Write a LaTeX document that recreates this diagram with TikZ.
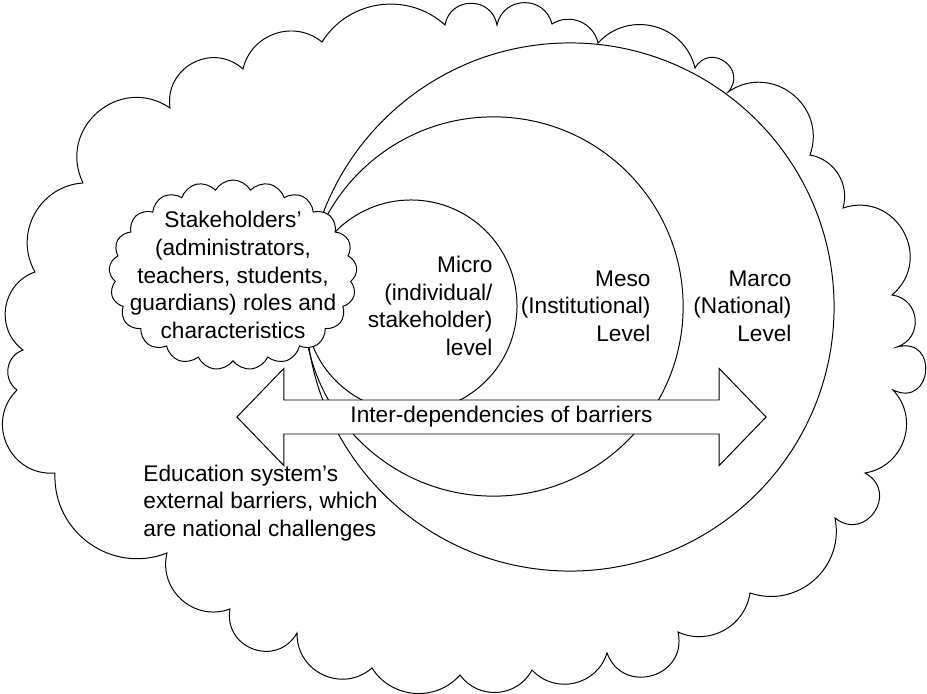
\documentclass[tikz,border=0pt]{standalone}
\usepackage{fontspec}
\setmainfont{Liberation Sans}
\usetikzlibrary{shapes.symbols,shapes.arrows}

\tikzset{
  puff/.code={\pgfmathsetmacro\puffloose{0.8514/(cos(#1/2)^2)}%
    \tikzset{bend left=#1, looseness/.expanded=\puffloose}},
  ring/.style={circle, draw, minimum size=#1, inner sep=0pt},
  level/.style={align=right, anchor=east, inner sep=0pt},
}

\begin{document}
\begin{tikzpicture}[x=0.025cm, y=-0.025cm, line width=0.7pt,
  every node/.append style={font=\fontsize{16.1}{19.6}\selectfont}]
\useasboundingbox (0,0) rectangle (927,694);

% outer cloud: external barriers
\draw[fill=white] (83,183) to[puff=75] (170,108) to[puff=70] (243,69)
  to[puff=58] (322,42) to[puff=50] (445,25) to[puff=80] (497,25)
  to[puff=77] (552,24) to[puff=55] (598,43) to[puff=62] (695,68)
  to[puff=96] (728,92) to[puff=72] (810,155) to[puff=48] (843,208)
  to[puff=79] (892,295) to[puff=77] (897,347) to[puff=110] (893,390)
  to[puff=62] (865,473) to[puff=95] (835,518) to[puff=60] (750,593)
  to[puff=53] (678,632) to[puff=86] (607,653) to[puff=60] (532,670)
  to[puff=58] (460,675) to[puff=53] (372,668) to[puff=66] (297,633)
  to[puff=80] (230,609) to[puff=62] (167,553) to[puff=57] (55,473)
  to[puff=70] (17,390) to[puff=62] (23,350) to[puff=62] (35,272)
  to[puff=58] (83,183) -- cycle;

% levels
\node[ring=13.2cm] (marco) at (570,307) {};
\node[ring=9.48cm] (meso) at (493.5,306.5) {};
\node[ring=5.3cm] (micro) at (411,306) {};

\node[level] (microtxt) at (493,306) {Micro\\(individual/\\stakeholder)\\level};
\node[level] (mesotxt) at (651,306) {Meso\\(Institutional)\\Level};
\node[level] (marcotxt) at (792,306) {Marco\\(National)\\Level};

\node[double arrow, draw, fill=white, minimum height=13.225cm,
  double arrow head extend=0.7875cm, double arrow tip angle=92,
  text height=0.4cm, text depth=0.125cm, inner ysep=0.15cm, inner xsep=0pt]
  (interdep) at (501.5,417) {Inter-dependencies of barriers};

% stakeholders
\node[cloud, cloud puffs=21, cloud puff arc=120, cloud ignores aspect, draw, fill=white,
  minimum width=6.2cm, minimum height=4.75cm] (stake) at (233,275) {};
\node[align=center, inner sep=0pt] (staketxt) at (stake.center)
  {Stakeholders’\\(administrators,\\teachers, students,\\guardians) roles and\\characteristics};

\node[align=left, anchor=west, inner sep=0pt] (edu) at (143,503)
  {Education system’s\\external barriers, which\\are national challenges};
\end{tikzpicture}
\end{document}
